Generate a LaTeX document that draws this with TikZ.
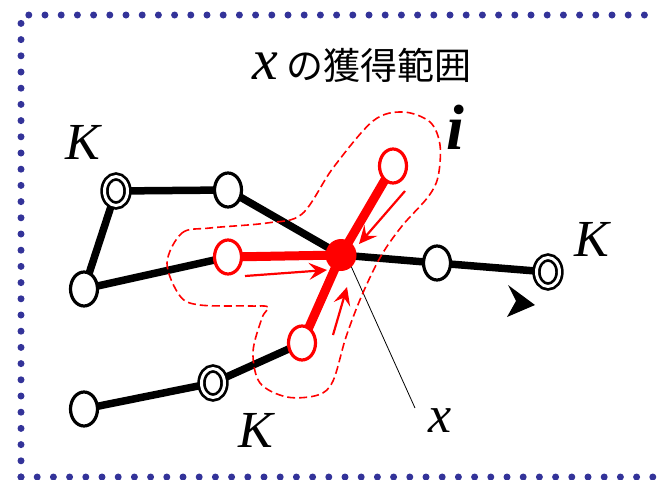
\documentclass[tikz,border=0pt]{standalone}
\usepackage{fontspec}
\setmainfont{Liberation Serif}
\newfontfamily\jpfont{Noto Sans CJK JP}
\usetikzlibrary{shapes.geometric,arrows.meta,backgrounds}
\definecolor{dotblue}{RGB}{51,51,153}
\tikzset{
  vtx/.style={ellipse, draw=black, line width=3.2pt, fill=white, minimum width=27pt, minimum height=34pt, inner sep=0pt},
  rvtx/.style={vtx, draw=red},
  dvtx/.style={ellipse, draw=black, fill=white, line width=2.7pt, double=white, double distance=3pt, minimum width=23pt, minimum height=29pt, inner sep=0pt},
  cvtx/.style={ellipse, fill=red, minimum width=31pt, minimum height=32pt, inner sep=0pt},
  bedge/.style={line width=7.5pt, black},
  redge/.style={line width=9pt, red},
  flow/.style={red, line width=2.2pt, -{Stealth[length=18pt,width=17pt,inset=7pt]}},
  lbl/.style={inner sep=0pt, font=\fontsize{52}{52}\selectfont\itshape},
  region/.style={red, line width=1.6pt, dash pattern=on 8pt off 4pt},
  frame/.style={dotblue, line width=7pt, line cap=round, dash pattern=on 0pt off 16.2pt}
}
\begin{document}
\begin{tikzpicture}[x=1pt,y=-1pt]
\useasboundingbox (0,0) rectangle (657,480);
\draw[frame] (21,477) -- (21,15) -- (690,15);
\draw[frame] (21,477) -- (690,477);

% title
\node[lbl, anchor=base west, font=\fontsize{58}{58}\selectfont\itshape] (tx) at (252,79) {x};
\node[inner sep=0pt, anchor=base west, font=\jpfont\fontsize{37}{37}\selectfont] (tt) at (286,79) {の獲得範囲};

% nodes
\node[dvtx] (a1) at (116,191) {};
\node[vtx] (a2) at (228,190) {};
\node[vtx] (a3) at (84,289) {};
\node[rvtx] (r1) at (228,257) {};
\node[cvtx] (ctr) at (341,255) {};
\node[rvtx] (r2) at (393,166) {};
\node[rvtx] (r3) at (302,343) {};
\node[vtx] (b1) at (437,263) {};
\node[dvtx] (d2) at (548,272) {};
\node[dvtx] (d3) at (213,383) {};
\node[vtx] (b4) at (84,409) {};

% labels
\node[lbl] (k1) at (83,142) {K};
\node[lbl, font=\fontsize{64}{64}\selectfont\bfseries\itshape] (il) at (455,127) {i};
\node[lbl] (k2) at (592,239) {K};
\node[lbl] (k3) at (256,430) {K};
\node[lbl] (xl) at (440,421) {x};
\coordinate (xe) at (415,408);

\begin{scope}[on background layer]
  \draw[line width=0.8pt] ([xshift=5pt]ctr.center) -- (xe);
  \draw[bedge] (a1.center) -- (a2.center);
  \draw[bedge] (a1.center) -- (a3.center);
  \draw[bedge] (a3.center) -- (r1.center);
  \draw[bedge] (a2.center) -- (ctr.center);
  \draw[bedge] (ctr.center) -- (b1.center);
  \draw[bedge] (b1.center) -- (d2.center);
  \draw[bedge] (r3.center) -- (d3.center);
  \draw[bedge] (d3.center) -- (b4.center);
  \draw[redge] (r1.center) -- (ctr.center);
  \draw[redge] (r2.center) -- (ctr.center);
  \draw[redge] (r3.center) -- (ctr.center);
  \draw[region] plot[smooth cycle, tension=0.55] coordinates {
    (167,263) (182,233) (210,228) (267,223) (302,214) (333,168) (373,121)
    (403,112) (430,122) (440,145) (438,177) (428,197) (402,226) (381,256)
    (362,295) (346,337) (333,381) (318,395) (287,397) (260,383) (253,352)
    (262,318) (268,307) (250,306) (200,305) (180,296)};
\end{scope}

% flow arrows
\coordinate (f1s) at (245,276); \coordinate (f1e) at (327,270);
\coordinate (f2s) at (405,191); \coordinate (f2e) at (359,244);
\coordinate (f3s) at (333,335); \coordinate (f3e) at (347,287);
\draw[flow] (f1s) -- (f1e);
\draw[flow] (f2s) -- (f2e);
\draw[flow] (f3s) -- (f3e);

% free arrowhead
\fill (535,305) -- (507,317) -- (516,301) -- (508,285) -- cycle;
\end{tikzpicture}
\end{document}
